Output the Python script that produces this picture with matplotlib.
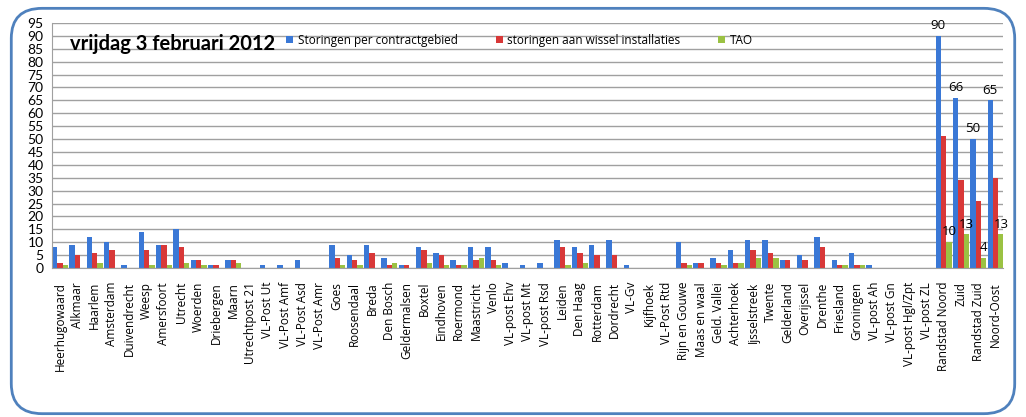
import numpy as np
import matplotlib
matplotlib.use("Agg")
import matplotlib.pyplot as plt
from matplotlib.patches import FancyBboxPatch

plt.rcParams['font.family'] = ['Lato', 'DejaVu Sans']

# Data
locaties = ["Heerhugowaard", "Alkmaar", "Haarlem", "Amsterdam", "Duivendrecht", "Weesp",
            "Amersfoort", "Utrecht", "Woerden", "Driebergen", "Maarn", "Utrechtpost 21",
            "VL-Post Ut", "VL-Post Amf", "VL-Post Asd", "VL-Post Amr", "Goes", "Roosendaal",
            "Breda", "Den Bosch", "Geldermalsen", "Boxtel", "Eindhoven", "Roermond",
            "Maastricht", "Venlo", "VL-post Ehv", "VL-post Mt", "VL-post Rsd", "Leiden",
            "Den Haag", "Rotterdam", "Dordrecht", "VL-Gv", "Kijfhoek", "VL-Post Rtd",
            "Rijn en Gouwe", "Maas en waal", "Geld. Vallei", "Achterhoek", "Ijsselstreek",
            "Twente", "Gelderland", "Overijssel", "Drenthe", "Friesland", "Groningen",
            "VL-post Ah", "VL-post Gn", "VL-post Hgl/Zpt", "VL-post ZL", "Randstad Noord",
            "Zuid", "Randstad Zuid", "Noord-Oost"]

storingen = [8, 9, 12, 10, 1, 14, 9, 15, 3, 1, 3, 0, 1, 1, 3, 0, 9, 5, 9, 4, 1, 8, 6, 3,
             8, 8, 2, 1, 2, 11, 8, 9, 11, 1, 0, 0, 10, 2, 4, 7, 11, 11, 3, 5, 12, 3, 6,
             1, 0, 0, 0, 90, 66, 50, 65]
wissels = [2, 5, 6, 7, 0, 7, 9, 8, 3, 1, 3, 0, 0, 0, 0, 0, 4, 3, 6, 1, 1, 7, 5, 1,
           3, 3, 0, 0, 0, 8, 6, 5, 5, 0, 0, 0, 2, 2, 2, 2, 7, 6, 3, 3, 8, 1, 1,
           0, 0, 0, 0, 51, 34, 26, 35]
tao = [1, 0, 2, 0, 0, 1, 1, 2, 1, 0, 2, 0, 0, 0, 0, 0, 1, 1, 0, 2, 0, 2, 1, 1,
       4, 1, 0, 0, 0, 1, 2, 0, 0, 0, 0, 0, 1, 0, 1, 2, 4, 4, 0, 0, 0, 1, 1,
       0, 0, 0, 0, 10, 13, 4, 13]

labels_vanaf = 51  # only the regional totals get value labels

fig = plt.figure(figsize=(10.26, 4.17), dpi=100)
ax = fig.add_axes([0.0507, 0.3573, 0.9269, 0.5875])

x = np.arange(len(locaties))
w = 0.31
b1 = ax.bar(x - w, storingen, w, color='#3a78d6', label='Storingen per contractgebied')
b2 = ax.bar(x, wissels, w, color='#d83838', label='storingen aan wissel installaties')
b3 = ax.bar(x + w, tao, w, color='#9bc243', label='TAO')

for i in range(labels_vanaf, len(locaties)):
    ax.text(x[i] - w, storingen[i] + 1.5, str(storingen[i]), ha='center', va='bottom',
            fontsize=9.5, family='Open Sans')
    ax.text(x[i] + w, tao[i] + 1.5, str(tao[i]), ha='center', va='bottom',
            fontsize=9.5, family='Open Sans')

ax.set_xlim(-0.46, 54.42)
ax.set_ylim(0, 95)
ax.set_yticks(range(0, 96, 5))
ax.yaxis.grid(True, color='#a0a0a0', linewidth=1)
ax.set_axisbelow(True)
ax.set_xticks(x)
ax.set_xticklabels(locaties, rotation=90, fontsize=8.5, family='Open Sans')
ax.tick_params(axis='y', labelsize=10, length=0, pad=6)
ax.tick_params(axis='x', length=0, pad=10)
for s in ['top', 'right']:
    ax.spines[s].set_visible(False)
for s in ['left', 'bottom']:
    ax.spines[s].set_color('#a0a0a0')

ax.text(0.019, 0.955, 'vrijdag 3 februari 2012', transform=ax.transAxes,
        fontsize=14.5, fontweight='bold', va='top')
ax.legend(loc='upper left', bbox_to_anchor=(0.235, 1.0), ncol=3, frameon=False,
          fontsize=8.5, handlelength=0.6, handleheight=0.6, columnspacing=3.2,
          handletextpad=0.4, prop={'family': 'Open Sans', 'size': 8.5})

# rounded border
border = FancyBboxPatch((0.011, 0.008), 0.978, 0.972, boxstyle="round,pad=0,rounding_size=0.03",
                        transform=fig.transFigure, fill=False, edgecolor='#4f81bd',
                        linewidth=2, mutation_aspect=2.4)
fig.patches.append(border)

fig.savefig('out.png', dpi=100)
